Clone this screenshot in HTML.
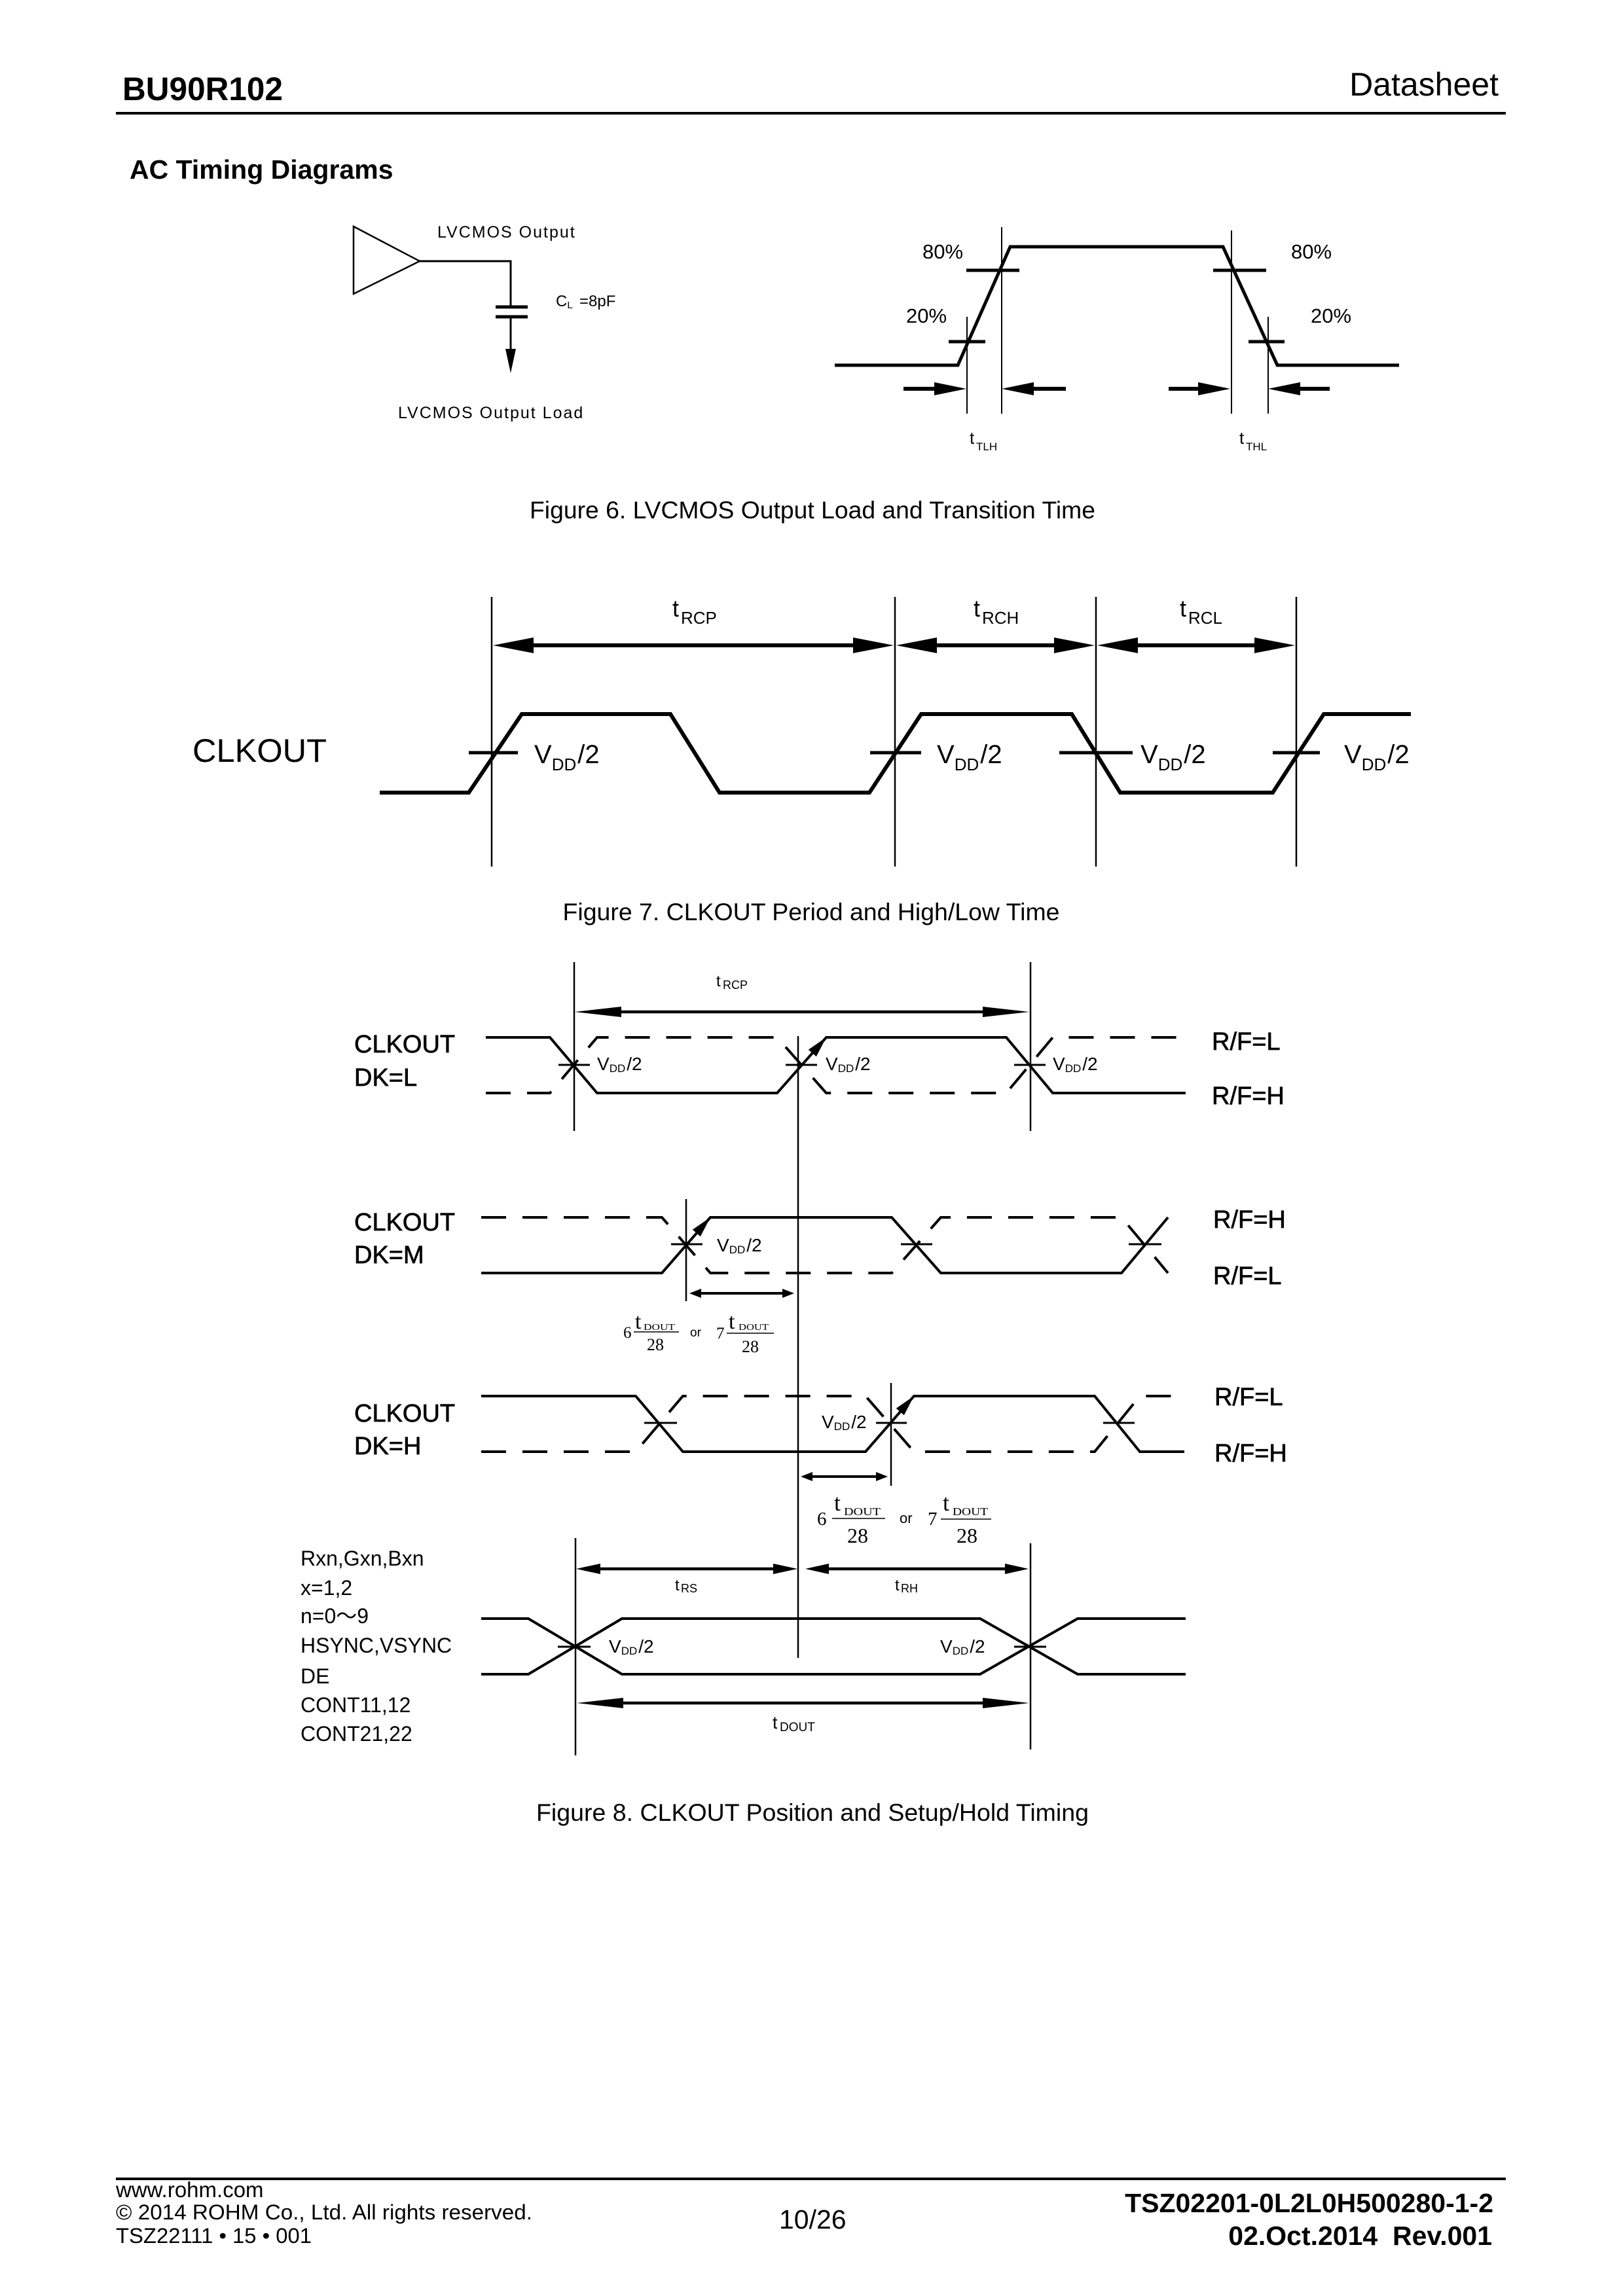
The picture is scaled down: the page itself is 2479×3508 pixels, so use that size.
<!DOCTYPE html>
<html><head><meta charset="utf-8"><title>BU90R102 AC Timing Diagrams</title>
<style>
html,body{margin:0;padding:0;background:#fff;}
svg{display:block;}
text{font-family:"Liberation Sans","Noto Sans CJK JP",sans-serif;fill:#000;}
.serif{font-family:"Liberation Serif","Noto Serif CJK SC",serif;}
.med{stroke:#000;stroke-width:0.7px;}
</style></head><body>
<svg width="2479" height="3508" viewBox="0 0 2479 3508" xmlns="http://www.w3.org/2000/svg">
<rect width="2479" height="3508" fill="#fff"/>

<!-- Header -->
<text x="187" y="153" font-size="50" font-weight="bold" textLength="245" lengthAdjust="spacingAndGlyphs">BU90R102</text>
<text x="2289" y="146" font-size="50" text-anchor="end">Datasheet</text>
<rect x="177" y="171" width="2123" height="4" fill="#000"/>
<text x="198" y="273" font-size="41" font-weight="bold">AC Timing Diagrams</text>

<!-- Figure 6 -->
<g fill="none" stroke="#000">
  <polygon points="540,346 540,449 641,399" stroke-width="2.5"/>
  <polyline points="641,399 780,399 780,469" stroke-width="3"/>
  <line x1="757" y1="469" x2="806" y2="469" stroke-width="5"/>
  <line x1="757" y1="484" x2="806" y2="484" stroke-width="5"/>
  <line x1="780" y1="484" x2="780" y2="540" stroke-width="3"/>
  <polyline points="1275,558 1463,558 1543,377 1868,377 1951,558 2137,558" stroke-width="5"/>
  <line x1="1477" y1="484" x2="1477" y2="632" stroke-width="2"/>
  <line x1="1530" y1="347" x2="1530" y2="632" stroke-width="2"/>
  <line x1="1881" y1="352" x2="1881" y2="632" stroke-width="2"/>
  <line x1="1937" y1="484" x2="1937" y2="632" stroke-width="2"/>
  <line x1="1476" y1="413" x2="1557" y2="413" stroke-width="5"/>
  <line x1="1853" y1="413" x2="1934" y2="413" stroke-width="5"/>
  <line x1="1449" y1="522" x2="1505" y2="522" stroke-width="5"/>
  <line x1="1907" y1="522" x2="1962" y2="522" stroke-width="5"/>
  <line x1="1380" y1="594" x2="1432" y2="594" stroke-width="6"/>
  <line x1="1574" y1="594" x2="1628" y2="594" stroke-width="6"/>
  <line x1="1785" y1="594" x2="1835" y2="594" stroke-width="6"/>
  <line x1="1981" y1="594" x2="2031" y2="594" stroke-width="6"/>
</g>
<polygon points="772,533 788,533 780,570" fill="#000"/>
<polygon points="1427,584 1427,604 1476,594" fill="#000"/>
<polygon points="1579,584 1579,604 1530,594" fill="#000"/>
<polygon points="1830,584 1830,604 1879,594" fill="#000"/>
<polygon points="1986,584 1986,604 1937,594" fill="#000"/>
<text x="668" y="363" font-size="25" letter-spacing="2">LVCMOS Output</text>
<text x="849" y="468" font-size="24">C<tspan font-size="15" dy="3">L</tspan><tspan dy="-3" x="885">=8pF</tspan></text>
<text x="608" y="639" font-size="25" letter-spacing="2">LVCMOS Output Load</text>
<text x="1409" y="395" font-size="31">80%</text>
<text x="1972" y="395" font-size="31">80%</text>
<text x="1384" y="493" font-size="31">20%</text>
<text x="2002" y="493" font-size="31">20%</text>
<text x="1481" y="678" font-size="26">t</text>
<text x="1491" y="688" font-size="17">TLH</text>
<text x="1893" y="678" font-size="26">t</text>
<text x="1903" y="688" font-size="17">THL</text>
<text x="1241" y="792" font-size="37" text-anchor="middle" textLength="864" lengthAdjust="spacingAndGlyphs">Figure 6. LVCMOS Output Load and Transition Time</text>

<!-- Figure 7 -->
<g fill="none" stroke="#000">
  <line x1="751" y1="912" x2="751" y2="1324" stroke-width="2.5"/>
  <line x1="1367" y1="912" x2="1367" y2="1324" stroke-width="2.5"/>
  <line x1="1674" y1="912" x2="1674" y2="1324" stroke-width="2.5"/>
  <line x1="1980" y1="912" x2="1980" y2="1324" stroke-width="2.5"/>
  <line x1="805" y1="986" x2="1315" y2="986" stroke-width="6"/>
  <line x1="1420" y1="986" x2="1620" y2="986" stroke-width="6"/>
  <line x1="1728" y1="986" x2="1925" y2="986" stroke-width="6"/>
  <polyline points="580,1211 716,1211 797,1091 1024,1091 1099,1211 1328,1211 1407,1091 1637,1091 1711,1211 1944,1211 2022,1091 2155,1091" stroke-width="6"/>
  <line x1="716" y1="1150" x2="791" y2="1150" stroke-width="5"/>
  <line x1="1329" y1="1150" x2="1407" y2="1150" stroke-width="5"/>
  <line x1="1618" y1="1150" x2="1730" y2="1150" stroke-width="5"/>
  <line x1="1944" y1="1150" x2="2016" y2="1150" stroke-width="5"/>
</g>
<polygon points="753,986 815,974 815,998" fill="#000"/>
<polygon points="1365,986 1303,974 1303,998" fill="#000"/>
<polygon points="1369,986 1431,974 1431,998" fill="#000"/>
<polygon points="1672,986 1610,974 1610,998" fill="#000"/>
<polygon points="1676,986 1738,974 1738,998" fill="#000"/>
<polygon points="1978,986 1916,974 1916,998" fill="#000"/>
<text x="1027" y="942" font-size="36">t</text>
<text x="1040" y="953" font-size="26">RCP</text>
<text x="1487" y="942" font-size="36">t</text>
<text x="1500" y="953" font-size="26">RCH</text>
<text x="1802" y="942" font-size="36">t</text>
<text x="1815" y="953" font-size="26">RCL</text>
<text x="294" y="1164" font-size="50" textLength="205" lengthAdjust="spacingAndGlyphs">CLKOUT</text>
<text x="816" y="1166" font-size="40">V<tspan font-size="26" dy="11">DD</tspan><tspan dy="-11" dx="2">/2</tspan></text>
<text x="1431" y="1166" font-size="40">V<tspan font-size="26" dy="11">DD</tspan><tspan dy="-11" dx="2">/2</tspan></text>
<text x="1742" y="1166" font-size="40">V<tspan font-size="26" dy="11">DD</tspan><tspan dy="-11" dx="2">/2</tspan></text>
<text x="2053" y="1166" font-size="40">V<tspan font-size="26" dy="11">DD</tspan><tspan dy="-11" dx="2">/2</tspan></text>
<text x="1239" y="1406" font-size="37" text-anchor="middle" textLength="759" lengthAdjust="spacingAndGlyphs">Figure 7. CLKOUT Period and High/Low Time</text>

<!-- Figure 8 -->
<g fill="none" stroke="#000">
  <line x1="877" y1="1470" x2="877" y2="1728" stroke-width="2.5"/>
  <line x1="1574" y1="1470" x2="1574" y2="1728" stroke-width="2.5"/>
  <line x1="1219" y1="1583" x2="1219" y2="2533" stroke-width="2.5"/>
  <line x1="1048" y1="1832" x2="1048" y2="1988" stroke-width="2.5"/>
  <line x1="1361" y1="2113" x2="1361" y2="2270" stroke-width="2.5"/>
  <line x1="879" y1="2350" x2="879" y2="2682" stroke-width="2.5"/>
  <line x1="1574" y1="2358" x2="1574" y2="2673" stroke-width="2.5"/>

  <line x1="930" y1="1546" x2="1520" y2="1546" stroke-width="4.5"/>
  <line x1="1065" y1="1976" x2="1201" y2="1976" stroke-width="4"/>
  <line x1="1235" y1="2256" x2="1344" y2="2256" stroke-width="4"/>
  <line x1="905" y1="2397" x2="1195" y2="2397" stroke-width="4.5"/>
  <line x1="1255" y1="2397" x2="1545" y2="2397" stroke-width="4.5"/>
  <line x1="935" y1="2602" x2="1520" y2="2602" stroke-width="4.5"/>

  <polyline points="742,1585 840,1585 912,1670 1187,1670 1262,1585 1537,1585 1608,1670 1811,1670" stroke-width="4"/>
  <polyline points="742,1670 840,1670 912,1585 1187,1585 1262,1670 1537,1670 1608,1585 1811,1585" stroke-width="4" stroke-dasharray="38 25"/>
  <line x1="853" y1="1627" x2="901" y2="1627" stroke-width="3"/>
  <line x1="1200" y1="1627" x2="1248" y2="1627" stroke-width="3"/>
  <line x1="1549" y1="1627" x2="1597" y2="1627" stroke-width="3"/>

  <polyline points="735,1945 1011,1945 1085,1860 1362,1860 1437,1945 1713,1945 1784,1860" stroke-width="4"/>
  <polyline points="735,1860 1011,1860 1085,1945 1362,1945 1437,1860 1713,1860 1784,1945" stroke-width="4" stroke-dasharray="38 25"/>
  <line x1="1025" y1="1901" x2="1073" y2="1901" stroke-width="3"/>
  <line x1="1376" y1="1901" x2="1424" y2="1901" stroke-width="3"/>
  <line x1="1724" y1="1901" x2="1774" y2="1901" stroke-width="3"/>

  <polyline points="735,2133 971,2133 1043,2218 1322,2218 1396,2133 1672,2133 1741,2218 1809,2218" stroke-width="4"/>
  <polyline points="735,2218 971,2218 1043,2133 1322,2133 1396,2218 1672,2218 1741,2133 1809,2133" stroke-width="4" stroke-dasharray="38 25"/>
  <line x1="984" y1="2174" x2="1034" y2="2174" stroke-width="3"/>
  <line x1="1338" y1="2174" x2="1385" y2="2174" stroke-width="3"/>
  <line x1="1685" y1="2174" x2="1733" y2="2174" stroke-width="3"/>

  <polyline points="735,2473 807,2473 950,2558 1497,2558 1646,2473 1811,2473" stroke-width="4"/>
  <polyline points="735,2558 807,2558 950,2473 1497,2473 1646,2558 1811,2558" stroke-width="4"/>
  <line x1="852" y1="2516" x2="902" y2="2516" stroke-width="3"/>
  <line x1="1549" y1="2516" x2="1598" y2="2516" stroke-width="3"/>

  <line x1="968" y1="2035" x2="1037" y2="2035" stroke-width="1.5"/>
  <line x1="1110" y1="2037" x2="1182" y2="2037" stroke-width="1.5"/>
  <line x1="1271" y1="2320" x2="1352" y2="2320" stroke-width="1.5"/>
  <line x1="1437" y1="2321" x2="1514" y2="2321" stroke-width="1.5"/>
</g>

<g fill="#000">
  <polygon points="878,1546 949,1538 949,1554"/>
  <polygon points="1572,1546 1501,1538 1501,1554"/>
  <polygon points="1262,1585 1246.8,1614.3 1234.8,1603.7"/>
  <polygon points="1085,1860 1069.8,1889.3 1057.8,1878.7"/>
  <polygon points="1396,2133 1380.8,2162.3 1368.8,2151.7"/>
  <polygon points="1053,1976 1071,1969 1071,1983"/>
  <polygon points="1213,1976 1195,1969 1195,1983"/>
  <polygon points="1223,2256 1241,2249 1241,2263"/>
  <polygon points="1356,2256 1338,2249 1338,2263"/>
  <polygon points="880,2397 917,2389 917,2405"/>
  <polygon points="1218,2397 1181,2389 1181,2405"/>
  <polygon points="1230,2397 1266,2389 1266,2405"/>
  <polygon points="1571,2397 1535,2389 1535,2405"/>
  <polygon points="881,2602 952,2594 952,2610"/>
  <polygon points="1572,2602 1501,2594 1501,2610"/>
</g>

<text x="1094" y="1507" font-size="24">t</text>
<text x="1104" y="1511" font-size="18">RCP</text>

<text class="med" x="541" y="1608" font-size="38">CLKOUT</text>
<text class="med" x="541" y="1659" font-size="38">DK=L</text>
<text class="med" x="541" y="1880" font-size="38">CLKOUT</text>
<text class="med" x="541" y="1930" font-size="38">DK=M</text>
<text class="med" x="541" y="2172" font-size="38">CLKOUT</text>
<text class="med" x="541" y="2222" font-size="38">DK=H</text>

<text class="med" x="1851" y="1604" font-size="38">R/F=L</text>
<text class="med" x="1851" y="1687" font-size="38">R/F=H</text>
<text class="med" x="1853" y="1876" font-size="38">R/F=H</text>
<text class="med" x="1853" y="1962" font-size="38">R/F=L</text>
<text class="med" x="1855" y="2147" font-size="38">R/F=L</text>
<text class="med" x="1855" y="2233" font-size="38">R/F=H</text>

<text x="912" y="1635" font-size="28">V<tspan font-size="17" dy="3">DD</tspan><tspan dy="-3" dx="2">/2</tspan></text>
<text x="1261" y="1635" font-size="28">V<tspan font-size="17" dy="3">DD</tspan><tspan dy="-3" dx="2">/2</tspan></text>
<text x="1608" y="1635" font-size="28">V<tspan font-size="17" dy="3">DD</tspan><tspan dy="-3" dx="2">/2</tspan></text>
<text x="1095" y="1912" font-size="28">V<tspan font-size="17" dy="3">DD</tspan><tspan dy="-3" dx="2">/2</tspan></text>
<text x="1255" y="2182" font-size="28">V<tspan font-size="17" dy="3">DD</tspan><tspan dy="-3" dx="2">/2</tspan></text>
<text x="930" y="2525" font-size="28">V<tspan font-size="17" dy="3">DD</tspan><tspan dy="-3" dx="2">/2</tspan></text>
<text x="1436" y="2525" font-size="28">V<tspan font-size="17" dy="3">DD</tspan><tspan dy="-3" dx="2">/2</tspan></text>

<text class="serif" x="952" y="2044" font-size="25">6</text>
<text class="serif" x="970" y="2030" font-size="34">t</text>
<text class="serif" x="983" y="2032" font-size="14" textLength="48" lengthAdjust="spacingAndGlyphs">DOUT</text>
<text class="serif" x="988" y="2063" font-size="26">28</text>
<text x="1054" y="2042" font-size="19">or</text>
<text class="serif" x="1094" y="2045" font-size="25">7</text>
<text class="serif" x="1113" y="2030" font-size="34">t</text>
<text class="serif" x="1128" y="2032" font-size="14" textLength="46" lengthAdjust="spacingAndGlyphs">DOUT</text>
<text class="serif" x="1133" y="2066" font-size="26">28</text>

<text class="serif" x="1248" y="2330" font-size="29">6</text>
<text class="serif" x="1274" y="2308" font-size="36">t</text>
<text class="serif" x="1289" y="2315" font-size="17" textLength="56" lengthAdjust="spacingAndGlyphs">DOUT</text>
<text class="serif" x="1294" y="2357" font-size="32">28</text>
<text x="1374" y="2327" font-size="22">or</text>
<text class="serif" x="1417" y="2330" font-size="29">7</text>
<text class="serif" x="1440" y="2308" font-size="36">t</text>
<text class="serif" x="1455" y="2315" font-size="17" textLength="54" lengthAdjust="spacingAndGlyphs">DOUT</text>
<text class="serif" x="1461" y="2357" font-size="32">28</text>

<text x="1031" y="2430" font-size="24">t</text>
<text x="1040" y="2433" font-size="18">RS</text>
<text x="1367" y="2430" font-size="24">t</text>
<text x="1376" y="2433" font-size="18">RH</text>
<text x="1180" y="2641" font-size="27">t</text>
<text x="1191" y="2645" font-size="19">DOUT</text>

<text x="459" y="2392" font-size="32">Rxn,Gxn,Bxn</text>
<text x="459" y="2437" font-size="32">x=1,2</text>
<text x="459" y="2480" font-size="32">n=0〜9</text>
<text x="459" y="2525" font-size="32">HSYNC,VSYNC</text>
<text x="459" y="2572" font-size="32">DE</text>
<text x="459" y="2616" font-size="32">CONT11,12</text>
<text x="459" y="2660" font-size="32">CONT21,22</text>

<text x="1241" y="2782" font-size="37" text-anchor="middle" textLength="844" lengthAdjust="spacingAndGlyphs">Figure 8. CLKOUT Position and Setup/Hold Timing</text>

<!-- Footer -->
<rect x="177" y="3327" width="2123" height="4" fill="#000"/>
<text x="177" y="3357" font-size="33">www.rohm.com</text>
<text x="177" y="3391" font-size="32" textLength="636" lengthAdjust="spacingAndGlyphs">© 2014 ROHM Co., Ltd. All rights reserved.</text>
<text x="177" y="3427" font-size="32" textLength="299" lengthAdjust="spacingAndGlyphs">TSZ22111 • 15 • 001</text>
<text x="1190" y="3405" font-size="41">10/26</text>
<text x="2281" y="3380" font-size="41" font-weight="bold" text-anchor="end">TSZ02201-0L2L0H500280-1-2</text>
<text x="2279" y="3430" font-size="41" font-weight="bold" text-anchor="end" xml:space="preserve">02.Oct.2014  Rev.001</text>
</svg>
</body></html>
